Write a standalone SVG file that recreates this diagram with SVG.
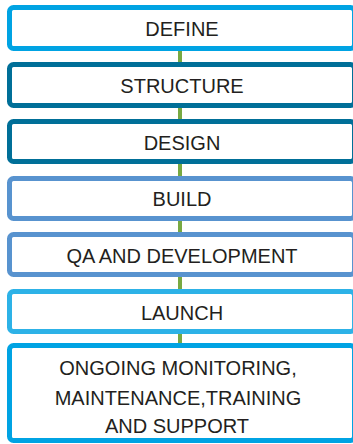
<svg xmlns="http://www.w3.org/2000/svg" width="353" height="444" viewBox="0 0 353 444">
<style>
.box{fill:#fff;stroke-width:5}
.t{font-family:"Liberation Sans",Arial,sans-serif;font-size:20px;fill:#231f20;text-anchor:middle}
.c{stroke:#78a942;stroke-width:4;fill:none}
</style>
<rect width="353" height="444" fill="#fff"/>
<g id="connectors">
<line class="c" x1="180" y1="50" x2="180" y2="63"/>
<line class="c" x1="180" y1="107" x2="180" y2="120"/>
<line class="c" x1="180" y1="164" x2="180" y2="177"/>
<line class="c" x1="180" y1="220" x2="180" y2="233"/>
<line class="c" x1="180" y1="277" x2="180" y2="290"/>
<line class="c" x1="180" y1="333" x2="180" y2="344"/>
</g>
<g id="define">
<rect class="box" x="9.5" y="7.5" width="345" height="41" rx="4" stroke="#00a3e3"/>
<text class="t" x="182" y="36">DEFINE</text>
</g>
<g id="structure">
<rect class="box" x="9.5" y="64.5" width="345" height="41" rx="4" stroke="#006f98"/>
<text class="t" x="182" y="93">STRUCTURE</text>
</g>
<g id="design">
<rect class="box" x="9.5" y="121.5" width="345" height="40" rx="4" stroke="#006f98"/>
<text class="t" x="182" y="150">DESIGN</text>
</g>
<g id="build">
<rect class="box" x="9.5" y="178.5" width="345" height="40" rx="4" stroke="#5893cf"/>
<text class="t" x="182" y="206">BUILD</text>
</g>
<g id="qa">
<rect class="box" x="9.5" y="234.5" width="345" height="40" rx="4" stroke="#5893cf"/>
<text class="t" x="182" y="263">QA AND DEVELOPMENT</text>
</g>
<g id="launch">
<rect class="box" x="9.5" y="291.5" width="345" height="40" rx="4" stroke="#2db2e7"/>
<text class="t" x="182" y="320">LAUNCH</text>
</g>
<g id="ongoing">
<rect class="box" x="9.5" y="345.5" width="345" height="95" rx="4" stroke="#00a3e3"/>
<text class="t" x="178" y="375">ONGOING MONITORING,</text>
<text class="t" x="178" y="405">MAINTENANCE,TRAINING</text>
<text class="t" x="177" y="433">AND SUPPORT</text>
</g>
</svg>
